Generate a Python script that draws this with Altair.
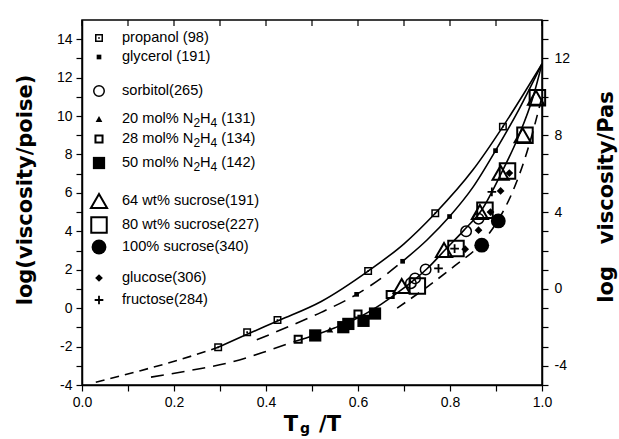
import altair as alt
import pandas as pd

# ---------------- data ----------------
propanol_x = [0.296, 0.359, 0.425, 0.622, 0.768, 0.915]
propanol_y = [-2.04, -1.25, -0.62, 1.93, 4.94, 9.45]
glycerol_x = [0.597, 0.697, 0.799, 0.899]
glycerol_y = [0.72, 2.44, 4.77, 8.2]
sorbitol_x = [0.715, 0.724, 0.747, 0.835, 0.862]
sorbitol_y = [1.3, 1.55, 2.01, 4.0, 4.66]
n2h4_20_x = [0.539]
n2h4_20_y = [-1.12]
n2h4_28_x = [0.47, 0.60, 0.67]
n2h4_28_y = [-1.62, -0.3, 0.71]
n2h4_50_x = [0.507, 0.568, 0.579, 0.612, 0.637]
n2h4_50_y = [-1.42, -0.99, -0.82, -0.66, -0.28]
suc64_x = [0.695, 0.787, 0.865, 0.91, 0.958, 0.987]
suc64_y = [1.15, 3.03, 5.0, 7.05, 9.0, 10.95]
suc80_x = [0.729, 0.813, 0.876, 0.925, 0.963, 0.99]
suc80_y = [1.15, 3.1, 5.1, 7.14, 9.0, 10.95]
suc100_x = [0.869, 0.905]
suc100_y = [3.28, 4.54]
glucose_x = [0.833, 0.862, 0.888, 0.91, 0.929]
glucose_y = [3.07, 4.06, 5.0, 6.1, 7.03]
fructose_x = [0.775, 0.81, 0.891]
fructose_y = [2.07, 3.1, 6.05]

# fitted curves
curveA_dash_x = [0.03, 0.12, 0.21, 0.296]
curveA_dash_y = [-3.86, -3.30, -2.70, -2.04]
curveA_x = [0.296, 0.36, 0.43, 0.52, 0.622, 0.70, 0.768, 0.85, 0.915, 0.96, 1.0]
curveA_y = [-2.04, -1.35, -0.62, 0.35, 1.93, 3.35, 4.94, 7.20, 9.45, 11.15, 12.72]
curveB_dash_x = [0.38, 0.45, 0.52, 0.597, 0.65, 0.697]
curveB_dash_y = [-1.65, -0.95, -0.22, 0.72, 1.55, 2.44]
curveB_x = [0.697, 0.75, 0.799, 0.85, 0.899, 0.95, 1.0]
curveB_y = [2.44, 3.55, 4.77, 6.30, 8.20, 10.35, 12.72]
curveC_dash_x = [0.15, 0.24, 0.32, 0.40, 0.46]
curveC_dash_y = [-3.59, -3.22, -2.84, -2.25, -1.75]
curveC_x = [0.46, 0.507, 0.55, 0.60, 0.65, 0.70, 0.75, 0.79, 0.83, 0.87, 0.91, 0.95, 0.98, 1.0]
curveC_y = [-1.75, -1.40, -1.02, -0.50, 0.20, 1.05, 2.05, 3.05, 4.05, 5.15, 6.95, 9.0, 10.95, 12.72]
curveD_x = [0.685, 0.75, 0.81, 0.869, 0.905, 0.935, 0.967, 1.0]
curveD_y = [0.0, 1.1, 2.2, 3.4, 4.6, 6.0, 8.1, 11.0]

# legend texts; N2H4 rows are split into pieces so that the digits can be subscripts
legend_labels = ["propanol (98)", "glycerol (191)", "sorbitol(265)",
                 ["20 mol% N", "2", "H", "4", " (131)"],
                 ["28 mol% N", "2", "H", "4", " (134)"],
                 ["50 mol% N", "2", "H", "4", " (142)"],
                 "64 wt% sucrose(191)", "80 wt% sucrose(227)", "100% sucrose(340)",
                 "glucose(306)", "fructose(284)"]

x_ticks = [round(i * 0.1, 1) for i in range(11)]
y_ticks = list(range(-4, 15))
yr_ticks = list(range(-5, 15))
yr_domain = [-5, 14]

FONT = "Liberation Sans"
TFONT = "DejaVu Sans"
LFS = 14.6   # legend font size
SFS = 12     # subscript font size

# ---------------- encodings ----------------
X = alt.X('x:Q', scale=alt.Scale(domain=[0, 1], nice=False, zero=False),
          axis=alt.Axis(values=x_ticks, title=None, grid=False,
                        labelExpr="round(datum.value*10) % 2 == 0 ? format(datum.value, '.1f') : ''",
                        tickSize=6, labelPadding=4, labelFont=FONT, labelFontSize=14,
                        labelColor='black', domainColor='black', tickColor='black',
                        domainWidth=1.5, tickWidth=1.2, labelFlush=False, labelOverlap=False))
Y = alt.Y('y:Q', scale=alt.Scale(domain=[-4, 15], nice=False, zero=False),
          axis=alt.Axis(values=y_ticks, title=None, grid=False,
                        labelExpr="datum.value % 2 == 0 ? '' + datum.value : ''",
                        tickSize=6, labelPadding=4, labelFont=FONT, labelFontSize=14,
                        labelColor='black', domainColor='black', tickColor='black',
                        domainWidth=1.5, tickWidth=1.2, labelOverlap=False))


def df_xy(xs, ys):
    return pd.DataFrame({'x': xs, 'y': ys, 'i': list(range(len(xs)))})


def curve(xs, ys, dash=None, width=1.6):
    kw = dict(color='black', strokeWidth=width, interpolate='monotone')
    if dash:
        kw['strokeDash'] = dash
    return alt.Chart(df_xy(xs, ys)).mark_line(**kw).encode(x=X, y=Y, order='i:Q')


def pts(xs, ys, shape, size, filled, sw=1.5):
    if filled:
        m = alt.Chart(df_xy(xs, ys)).mark_point(shape=shape, size=size, filled=True,
                                                 color='black', opacity=1)
    else:
        m = alt.Chart(df_xy(xs, ys)).mark_point(shape=shape, size=size, filled=False,
                                                 color='black', opacity=1, strokeWidth=sw)
    return m.encode(x=X, y=Y)


PLUS = "M-1,0L1,0M0,-1L0,1"
styles = [
    ('square', 42, False, 1.5),      # propanol
    ('square', 22, True, 1),         # glycerol
    ('circle', 110, False, 1.5),     # sorbitol
    ('triangle-up', 45, True, 1),    # 20 mol%
    ('square', 50, False, 2),        # 28 mol%
    ('square', 150, True, 1),        # 50 mol%
    ('triangle-up', 260, False, 2),  # 64 wt%
    ('square', 240, False, 2),       # 80 wt%
    ('circle', 220, True, 1),        # 100%
    ('diamond', 60, True, 1),        # glucose
    (PLUS, 75, False, 1.8),          # fructose
]
series = [(propanol_x, propanol_y), (glycerol_x, glycerol_y), (sorbitol_x, sorbitol_y),
          (n2h4_20_x, n2h4_20_y), (n2h4_28_x, n2h4_28_y), (n2h4_50_x, n2h4_50_y),
          (suc64_x, suc64_y), (suc80_x, suc80_y), (suc100_x, suc100_y),
          (glucose_x, glucose_y), (fructose_x, fructose_y)]

layers = [
    curve(curveA_dash_x, curveA_dash_y, dash=[9, 6]),
    curve(curveA_x, curveA_y),
    curve(curveB_dash_x, curveB_dash_y, dash=[13, 8]),
    curve(curveB_x, curveB_y),
    curve(curveC_dash_x, curveC_dash_y, dash=[13, 8]),
    curve(curveC_x, curveC_y),
    curve(curveD_x, curveD_y, dash=[10, 7]),
]
for (xs, ys), (shape, size, filled, sw) in zip(series, styles):
    layers.append(pts(xs, ys, shape, size, filled, sw))
# dot inside the propanol squares
layers.append(pts(propanol_x, propanol_y, 'square', 3, True))

# top-frame ticks pointing inwards
top_ticks = alt.Chart(pd.DataFrame({'x': x_ticks})).mark_rule(color='black', strokeWidth=1.2).encode(
    x=X, y=alt.value(0), y2=alt.value(6))
layers.append(top_ticks)

# ---------------- legend (layout) ----------------
one = pd.DataFrame({'a': [0]})
# Arial/Liberation Sans advance widths (per 1000 em) for measuring the split labels
ADV = {' ': 278, '%': 889, '(': 333, ')': 333, '0': 556, '1': 556, '2': 556, '3': 556,
       '4': 556, '5': 556, '8': 556, 'H': 722, 'N': 722, 'l': 222, 'm': 833, 'o': 556}


def width(s, fs):
    return sum(ADV.get(c, 556) for c in s) * fs / 1000.0


def ltext(t, x, y, fs):
    return alt.Chart(one).mark_text(text=t, align='left', baseline='middle', font=FONT,
                                    fontSize=fs, color='black').encode(
        x=alt.value(x), y=alt.value(y))


row_py = [18, 37, 71, 99, 119, 143, 181, 205, 227, 258, 280]
TX = 40
for label, py, (shape, size, filled, sw) in zip(legend_labels, row_py, styles):
    if filled:
        sym = alt.Chart(one).mark_point(shape=shape, size=size, filled=True, color='black', opacity=1)
    else:
        sym = alt.Chart(one).mark_point(shape=shape, size=size, filled=False, color='black',
                                         opacity=1, strokeWidth=sw)
    layers.append(sym.encode(x=alt.value(17), y=alt.value(py)))
    if isinstance(label, list):
        xpos = TX
        for k, piece in enumerate(label):
            sub = k in (1, 3)
            fs = SFS if sub else LFS
            if piece.startswith(' '):
                xpos += width(' ', fs)
                piece = piece.lstrip()
            layers.append(ltext(piece, xpos, py + (4 if sub else 0), fs))
            xpos += width(piece, fs)
    else:
        layers.append(ltext(label, TX, py, LFS))
layers.append(alt.Chart(one).mark_point(shape='square', size=3, filled=True, color='black', opacity=1)
              .encode(x=alt.value(17), y=alt.value(row_py[0])))

# ---------------- titles (layout) ----------------
def txt(t, x, y, size, angle=0, align='center', baseline='middle', font=TFONT, bold=True):
    return alt.Chart(one).mark_text(text=t, align=align, baseline=baseline, font=font,
                                    fontSize=size, fontWeight='bold' if bold else 'normal',
                                    angle=angle, color='black').encode(x=alt.value(x), y=alt.value(y))

layers.append(txt("log(viscosity/poise)", -56, 170, 21, angle=270))
layers.append(txt("log\u00a0\u00a0 viscosity/Pas", 525, 177, 21, angle=270))
layers.append(txt("T", 209, 411, 21, baseline='alphabetic'))
layers.append(txt("g", 223, 413, 14, baseline='alphabetic'))
layers.append(txt("/T", 237, 411, 21, align='left', baseline='alphabetic'))

inner = alt.layer(*layers)

right = alt.Chart(pd.DataFrame({'yr': yr_domain})).mark_point(opacity=0).encode(
    x=alt.value(0),
    y=alt.Y('yr:Q', scale=alt.Scale(domain=yr_domain, nice=False, zero=False),
            axis=alt.Axis(orient='right', values=yr_ticks, title=None, grid=False,
                          labelExpr="datum.value % 4 == 0 && datum.value >= -4 ? '' + datum.value : ''",
                          tickSize=6, labelPadding=6, labelFont=FONT, labelFontSize=14,
                          labelColor='black', domainColor='black', tickColor='black',
                          domainWidth=1.5, tickWidth=1.2, labelOverlap=False)))

chart = alt.layer(inner, right).resolve_scale(y='independent').properties(
    width=460, height=365,
    padding={"left": 82, "top": 20, "right": 77, "bottom": 54},
    autosize=alt.AutoSizeParams(type="none"),
    background='white',
).configure_view(stroke='black', strokeWidth=1.5)

chart.save("out.html", embed_options={"renderer": "svg", "actions": False})
